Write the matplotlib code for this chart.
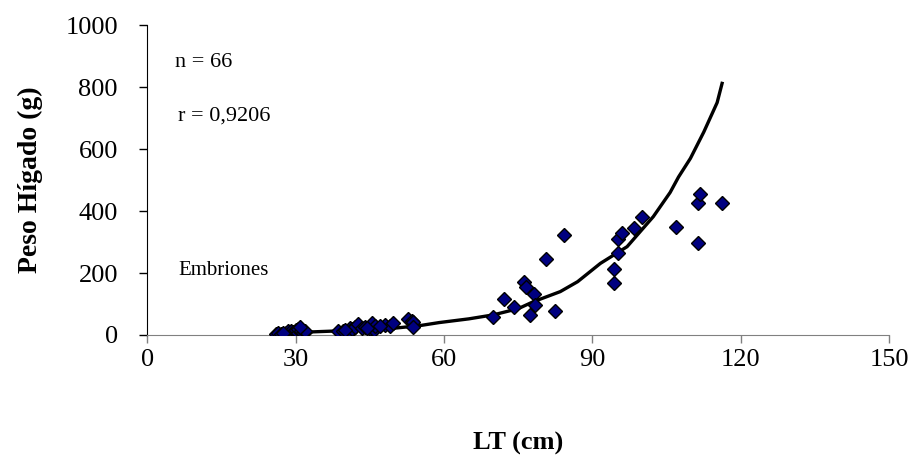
import matplotlib.pyplot as plt

plt.rcParams['font.family'] = ['Liberation Serif', 'DejaVu Serif']

# LT (cm) vs liver weight (g)
lt = [26.0, 26.5, 27.0, 28.0, 28.5, 29.0, 29.0, 29.5, 30.0, 30.0, 30.0, 30.5, 30.5,
      31.0, 31.0, 31.5, 32.0, 32.0, 38.5, 39.5, 41.0, 41.0, 41.5, 42.0, 42.7, 43.5,
      44.1, 45.0, 45.4, 45.8, 46.0, 48.1, 49.0, 49.6, 52.8, 53.5, 53.8, 53.8,
      70.0, 72.2, 74.1, 76.2, 76.6, 77.3, 78.2, 78.4, 80.7, 82.5, 84.3,
      94.3, 94.3, 95.1, 95.1, 96.0, 98.3, 100.0, 106.9, 111.3, 111.3, 111.7, 116.2,
      27.5, 30.8, 40.0, 44.5, 47.0]
peso = [4, 7, 3, 8, 12, 5, 14, 9, 6, 11, 15, 8, 20,
        10, 13, 7, 9, 12, 14, 12, 21, 10, 18, 26, 35, 24,
        27, 20, 38, 16, 30, 32, 28, 40, 51, 45, 43, 27,
        57, 117, 91, 171, 156, 65, 132, 97, 246, 78, 323,
        214, 169, 265, 310, 330, 345, 382, 349, 425, 298, 454, 427,
        6, 25, 17, 22, 29]

# trend line as drawn
trend_x = [26, 30, 35, 40, 45, 50, 55, 59, 65, 70, 75, 78, 83.5, 87, 91.6,
           97, 102.3, 105.7, 107.4, 109.8, 112.5, 115.2, 116.2]
trend_y = [6, 8, 11, 14, 17, 22, 30, 40, 52, 65, 85, 107, 140, 172, 231,
           285, 382, 460, 510, 570, 655, 750, 812]

fig = plt.figure(figsize=(9.14, 4.57), dpi=100)
ax = fig.add_axes([0.161, 0.267, 0.812, 0.678])

ax.plot(trend_x, trend_y, color='black', lw=2.4, zorder=2)
ax.plot(lt, peso, ls='none', marker='D', ms=7, mfc='#000080', mec='black',
        mew=1.0, zorder=3)

ax.set_xlim(0, 150)
ax.set_ylim(0, 1000)
ax.set_xticks(range(0, 151, 30))
ax.set_yticks(range(0, 1001, 200))
ax.tick_params(labelsize=19, direction='out', length=6, width=1, pad=15)
ax.tick_params(axis='x', colors='#808080', labelcolor='black', pad=4)

ax.spines['top'].set_visible(False)
ax.spines['right'].set_visible(False)
ax.spines['bottom'].set_color('#808080')
ax.spines['left'].set_color('black')

ax.set_xlabel('LT (cm)', fontsize=19, fontweight='bold', labelpad=44)
ax.set_ylabel('Peso Hígado (g)', fontsize=20, fontweight='bold', labelpad=16)

ax.text(5.7, 878, 'n = 66', fontsize=16, va='center')
ax.text(6.3, 707, 'r = 0,9206', fontsize=16, va='center')
ax.text(6.3, 209, 'Embriones', fontsize=15, va='center')

fig.savefig('out.png', dpi=100)
